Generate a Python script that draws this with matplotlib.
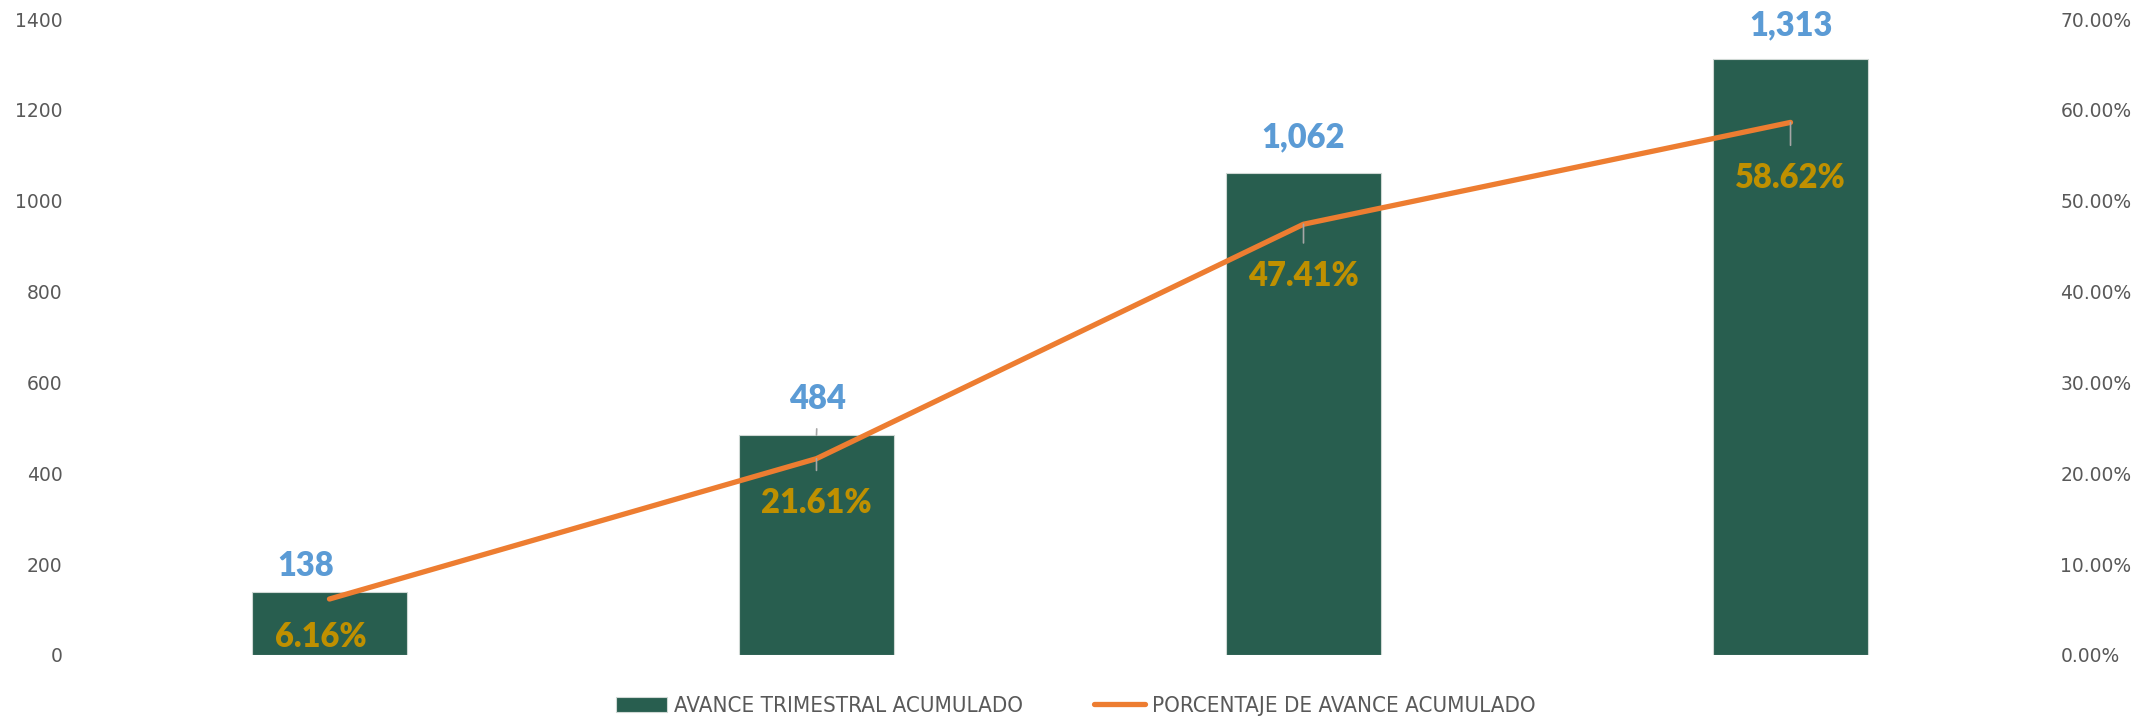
import numpy as np
import matplotlib.pyplot as plt
from matplotlib.ticker import FuncFormatter, MultipleLocator

categories = ["T1", "T2", "T3", "T4"]
avance = [138, 484, 1062, 1313]
porcentaje = [0.0616, 0.2161, 0.4741, 0.5862]
avance_labels = ["138", "484", "1,062", "1,313"]
pct_labels = ["6.16%", "21.61%", "47.41%", "58.62%"]

bar_color = "#285E4F"
line_color = "#ED7D31"
tick_color = "#595959"

fig = plt.figure(figsize=(21.49, 7.17), dpi=100)
ax = fig.add_axes([0.040, 0.0865, 0.9065, 0.887])
ax2 = ax.twinx()

x = np.arange(len(categories))
bars = ax.bar(x, avance, width=0.32, color=bar_color, edgecolor="#cfd8d4", linewidth=0.8,
              label="AVANCE TRIMESTRAL ACUMULADO", zorder=2)
line, = ax2.plot(x, porcentaje, color=line_color, linewidth=3.8, solid_capstyle="round",
                 label="PORCENTAJE DE AVANCE ACUMULADO", zorder=3)

ax.set_xlim(-0.5, 3.5)
ax.set_ylim(0, 1400)
ax.yaxis.set_major_locator(MultipleLocator(200))
ax2.set_ylim(0, 0.7)
ax2.yaxis.set_major_locator(MultipleLocator(0.1))
ax2.yaxis.set_major_formatter(FuncFormatter(lambda v, p: f"{v*100:.2f}%"))
ax.set_xticks([])

for a in (ax, ax2):
    for s in a.spines.values():
        s.set_visible(False)
ax.tick_params(axis="y", length=0, pad=17, labelsize=13.5, labelcolor=tick_color)
ax2.tick_params(axis="y", length=0, pad=19, labelsize=13.5, labelcolor=tick_color)

lab_font = dict(family="Lato", weight="heavy", fontsize=23.5)

# bar value labels (offsets in points)
bar_offsets = [(-17, 19), (1, 26), (0, 25), (0, 24)]
for i in range(len(x)):
    dx, dy = bar_offsets[i]
    kw = {}
    if i == 1:
        kw["arrowprops"] = dict(arrowstyle="-", color="#a6a6a6", lw=1.2, shrinkA=8, shrinkB=0)
    ax.annotate(avance_labels[i], (x[i], avance[i]), xytext=(dx, dy), textcoords="offset points",
                ha="center", va="center", color="#5B9BD5", zorder=5, **lab_font, **kw)

# percentage labels
pct_offsets = [(-6, -27), (0, -32), (0, -37), (0, -40)]
for i in range(len(x)):
    dx, dy = pct_offsets[i]
    kw = {}
    if i > 0:
        kw["arrowprops"] = dict(arrowstyle="-", color="#a6a6a6", lw=1.2, shrinkA=10, shrinkB=0)
    ax2.annotate(pct_labels[i], (x[i], porcentaje[i]), xytext=(dx, dy), textcoords="offset points",
                 ha="center", va="center", color="#BF9000", zorder=5, **lab_font, **kw)

fig.legend(handles=[bars, line], loc="center", bbox_to_anchor=(0.5007, 0.015), ncol=2,
           frameon=False, handlelength=2.3, handleheight=0.7, handletextpad=0.3,
           columnspacing=3.2,
           prop=dict(family="DejaVu Sans", stretch="condensed", size=16),
           labelcolor=tick_color)

fig.savefig("out.png", dpi=100)
